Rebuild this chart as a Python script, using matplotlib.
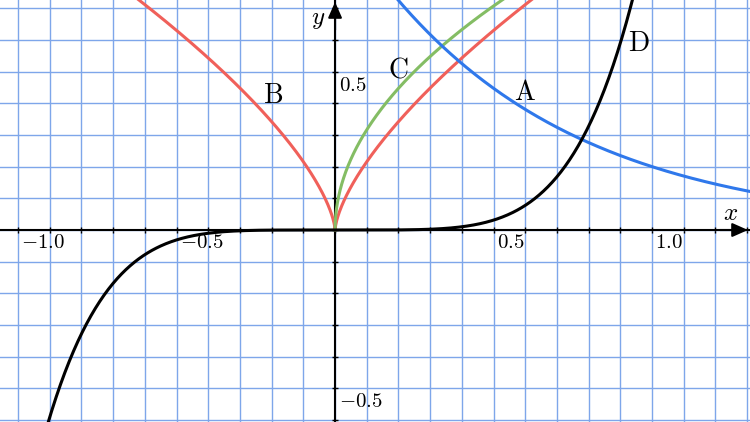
import numpy as np
import matplotlib
matplotlib.use("Agg")
import matplotlib.pyplot as plt

plt.rcParams["mathtext.fontset"] = "cm"

# curves: A = base**x, B = |x|**p, C = x**p (x >= 0), D = x**p
curve_names = ["A", "B", "C", "D"]
curve_colors = ["#2f78eb", "#f0605a", "#84bd64", "black"]
a_base = 0.2
b_power = 2.0 / 3.0
c_power = 0.5
d_power = 5
# label positions (data units)
label_x = [0.60, -0.196, 0.199, 0.959]
label_y = [0.435, 0.426, 0.508, 0.590]

# axis tick positions / labels
x_ticks = np.round(np.arange(-1.0, 1.31, 0.1), 2)
y_ticks = np.round(np.arange(-0.6, 0.71, 0.1), 2)
x_labeled = [-1.0, -0.5, 0.5, 1.0]
y_labeled = [-0.5, 0.5]

xmin, xmax = -1.057, 1.309
ymin, ymax = -0.606, 0.726
px = 1.0 / 317  # one pixel in data units

fig = plt.figure(figsize=(7.5, 4.22), dpi=100)
ax = fig.add_axes([0, 0, 1, 1])
ax.set_xlim(xmin, xmax)
ax.set_ylim(ymin, ymax)

# grid
ax.set_xticks(x_ticks)
ax.set_yticks(y_ticks)
ax.grid(True, color="#7ea6ea", linewidth=1.0, zorder=0)
ax.set_axisbelow(True)
ax.set_xticklabels([])
ax.set_yticklabels([])

# axes through origin
for s in ["top", "right"]:
    ax.spines[s].set_visible(False)
ax.spines["bottom"].set_position(("data", 0))
ax.spines["left"].set_position(("data", 0))
ax.spines["bottom"].set_linewidth(1.5)
ax.spines["left"].set_linewidth(1.5)
ax.tick_params(direction="inout", length=5, width=1.0, color="black")

# arrow heads
arrow = dict(arrowstyle="-|>,head_length=0.95,head_width=0.42", color="black", lw=1.5,
             shrinkA=0, shrinkB=0)
ax.annotate("", xy=(xmax - 2 * px, 0), xytext=(xmax - 30 * px, 0), arrowprops=arrow, zorder=5)
ax.annotate("", xy=(0, ymax - 2 * px), xytext=(0, ymax - 30 * px), arrowprops=arrow, zorder=5)

# curves
lw = 2.2
xa = np.linspace(0.0, 1.4, 400)
ax.plot(xa, a_base ** xa, color=curve_colors[0], lw=lw, zorder=4)
xb = np.linspace(-0.7, 0.7, 801)
ax.plot(xb, np.abs(xb) ** b_power, color=curve_colors[1], lw=lw, zorder=3)
xc = np.linspace(0.0, 0.6, 801)
ax.plot(xc, xc ** c_power, color=curve_colors[2], lw=lw, zorder=3)
xd = np.linspace(-1.1, 1.1, 801)
ax.plot(xd, xd ** d_power, color=curve_colors[3], lw=lw, zorder=4)

for name, lx, ly in zip(curve_names, label_x, label_y):
    ax.text(lx, ly, r"$\mathrm{%s}$" % name, fontsize=20, ha="center", va="center", zorder=6)

# tick labels
for t in x_labeled:
    ax.text(t + 3 * px, -2 * px, r"$%.1f$" % t, fontsize=15, ha="left", va="top", zorder=6)
for t in y_labeled:
    ax.text(4 * px, t - 3 * px, r"$%.1f$" % t, fontsize=15, ha="left", va="top", zorder=6)

# axis names
ax.text(xmax - 19 * px, 17 * px, r"$x$", fontsize=18, ha="center", va="center")
ax.text(-17 * px, ymax - 19 * px, r"$y$", fontsize=18, ha="center", va="center")

fig.savefig("out.png", dpi=100)
